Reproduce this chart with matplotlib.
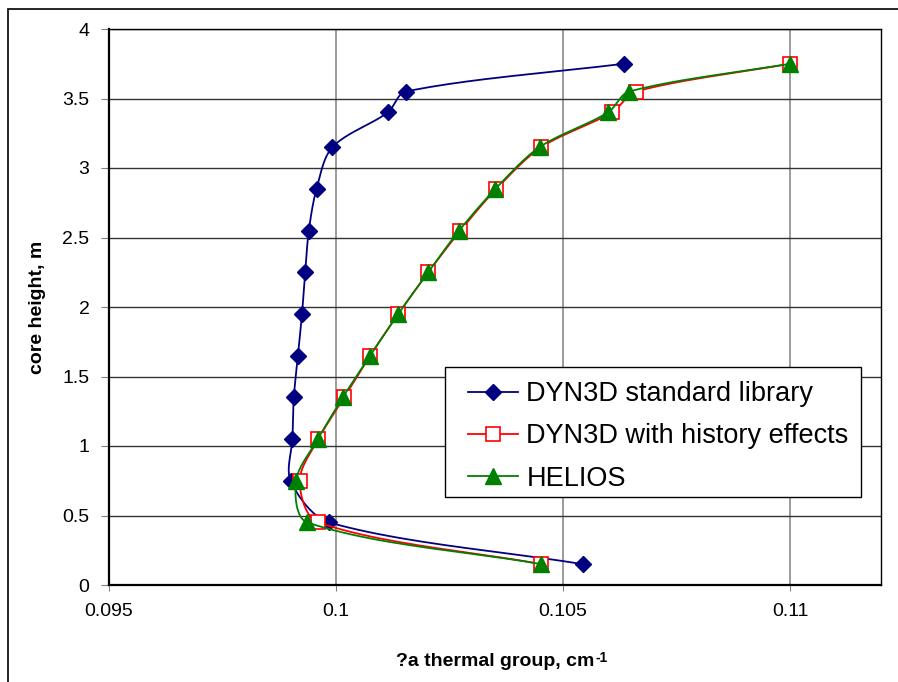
import numpy as np
import matplotlib.pyplot as plt
from matplotlib.patches import Rectangle

plt.rcParams['font.family'] = ['Liberation Sans', 'DejaVu Sans']

# core heights of the axial nodes, m
height = [0.15, 0.45, 0.75, 1.05, 1.35, 1.65, 1.95, 2.25, 2.55, 2.85, 3.15, 3.40, 3.55, 3.75]

# thermal absorption cross section, cm-1
dyn3d_std = [0.10543, 0.09985, 0.09900, 0.09904, 0.09907, 0.09916, 0.09925,
             0.09932, 0.09940, 0.09957, 0.09992, 0.10114, 0.10153, 0.10633]
dyn3d_hist = [0.10452, 0.09961, 0.09920, 0.09961, 0.10018, 0.10075, 0.10137,
              0.10203, 0.10274, 0.10353, 0.10452, 0.10608, 0.10660, 0.11000]
helios = [0.10452, 0.09937, 0.09912, 0.09960, 0.10015, 0.10075, 0.10137,
          0.10203, 0.10271, 0.10351, 0.10448, 0.10599, 0.10645, 0.11000]

xlim = (0.095, 0.112)
ylim = (0, 4)
W, H = 898, 682
ASPECT = 556 / 772


def smooth(x, y, n=24, k=0.3):
    # bezier smoothing through the points, tangents scaled by segment length
    sx = (np.asarray(x) - xlim[0]) / (xlim[1] - xlim[0])
    sy = (np.asarray(y) - ylim[0]) / (ylim[1] - ylim[0]) * ASPECT
    p = np.column_stack([sx, sy])
    m = len(p)
    tang = np.zeros_like(p)
    for i in range(m):
        d = p[min(i + 1, m - 1)] - p[max(i - 1, 0)]
        tang[i] = d / (np.hypot(*d) + 1e-12)
    t = np.linspace(0, 1, n, endpoint=False)[:, None]
    out = []
    for i in range(m - 1):
        p1, p2 = p[i], p[i + 1]
        L = np.hypot(*(p2 - p1))
        b1 = p1 + tang[i] * L * k
        b2 = p2 - tang[i + 1] * L * k
        seg = ((1 - t) ** 3) * p1 + 3 * ((1 - t) ** 2) * t * b1 + 3 * (1 - t) * t ** 2 * b2 + t ** 3 * p2
        out.append(seg)
    out.append(p[-1][None, :])
    out = np.vstack(out)
    return (out[:, 0] * (xlim[1] - xlim[0]) + xlim[0],
            out[:, 1] / ASPECT * (ylim[1] - ylim[0]) + ylim[0])


fig = plt.figure(figsize=(W / 100, H / 100), dpi=100)
ax = fig.add_axes([109 / W, 1 - 585 / H, 772 / W, 556 / H])

series = [
    (dyn3d_std, 'DYN3D standard library', '#000080',
     dict(marker='D', ms=7.8, mfc='#000080', mec='#000080')),
    (dyn3d_hist, 'DYN3D with history effects', '#ff0000',
     dict(marker='s', ms=10, mfc='white', mec='#ff0000', mew=1.2)),
    (helios, 'HELIOS', '#008000',
     dict(marker='^', ms=11, mfc='#008000', mec='#008000')),
]
for i, (xs, label, col, mk) in enumerate(series):
    cx, cy = smooth(xs, height)
    ax.plot(cx, cy, color=col, lw=1.3, zorder=3 + i)
    ax.plot(xs, height, ls='none', zorder=3 + i, **mk)
    ax.plot([], [], color=col, lw=1.3, label=label, **mk)

ax.set_xlim(*xlim)
ax.set_ylim(*ylim)
ax.set_xticks([0.095, 0.1, 0.105, 0.11])
ax.set_xticklabels(['0.095', '0.1', '0.105', '0.11'])
ax.set_yticks(np.arange(0, 4.01, 0.5))
ax.set_yticklabels(['0', '0.5', '1', '1.5', '2', '2.5', '3', '3.5', '4'])

ax.xaxis.grid(True, color='#808080', lw=1.1)
ax.yaxis.grid(True, color='#333333', lw=1.0)
ax.set_axisbelow(True)
for s in ax.spines.values():
    s.set_color('black')
    s.set_linewidth(1.0)
ax.spines['left'].set_linewidth(1.6)
ax.spines['bottom'].set_linewidth(1.6)

ax.tick_params(axis='both', labelsize=14, color='#808080', direction='out')
ax.tick_params(axis='y', length=6, pad=8)
ax.tick_params(axis='x', length=4, pad=9)

xl = ax.set_xlabel('?a thermal group, cm', fontsize=14, fontweight='bold', labelpad=24)
ax.set_ylabel('core height, m', fontsize=14, fontweight='bold', labelpad=12)

# legend box drawn separately so the inner padding can differ per side
box = Rectangle((445 / W, 1 - 497 / H), 416 / W, 130 / H, transform=fig.transFigure,
                facecolor='white', edgecolor='black', lw=1.0, zorder=9, clip_on=False)
ax.add_artist(box)
leg = ax.legend(loc='upper left', bbox_to_anchor=(456 / W, 1 - 369 / H),
                bbox_transform=fig.transFigure, fontsize=19.5, frameon=False,
                borderaxespad=0, handlelength=1.85, handletextpad=0.3,
                borderpad=0.45, labelspacing=0.6)
leg.set_zorder(10)

# superscript of the unit
fig.canvas.draw()
bb = xl.get_window_extent()
fig.text((bb.x1 + 1) / W, (bb.y1 + 2) / H, '-1', fontsize=10, fontweight='bold',
         ha='left', va='top')

# outer chart frame
fig.patches.append(Rectangle((8 / W, -0.1), 1.2, 1.1 - 9 / H, transform=fig.transFigure,
                             fill=False, edgecolor='black', lw=1.2))

fig.savefig('out.png', dpi=100)
